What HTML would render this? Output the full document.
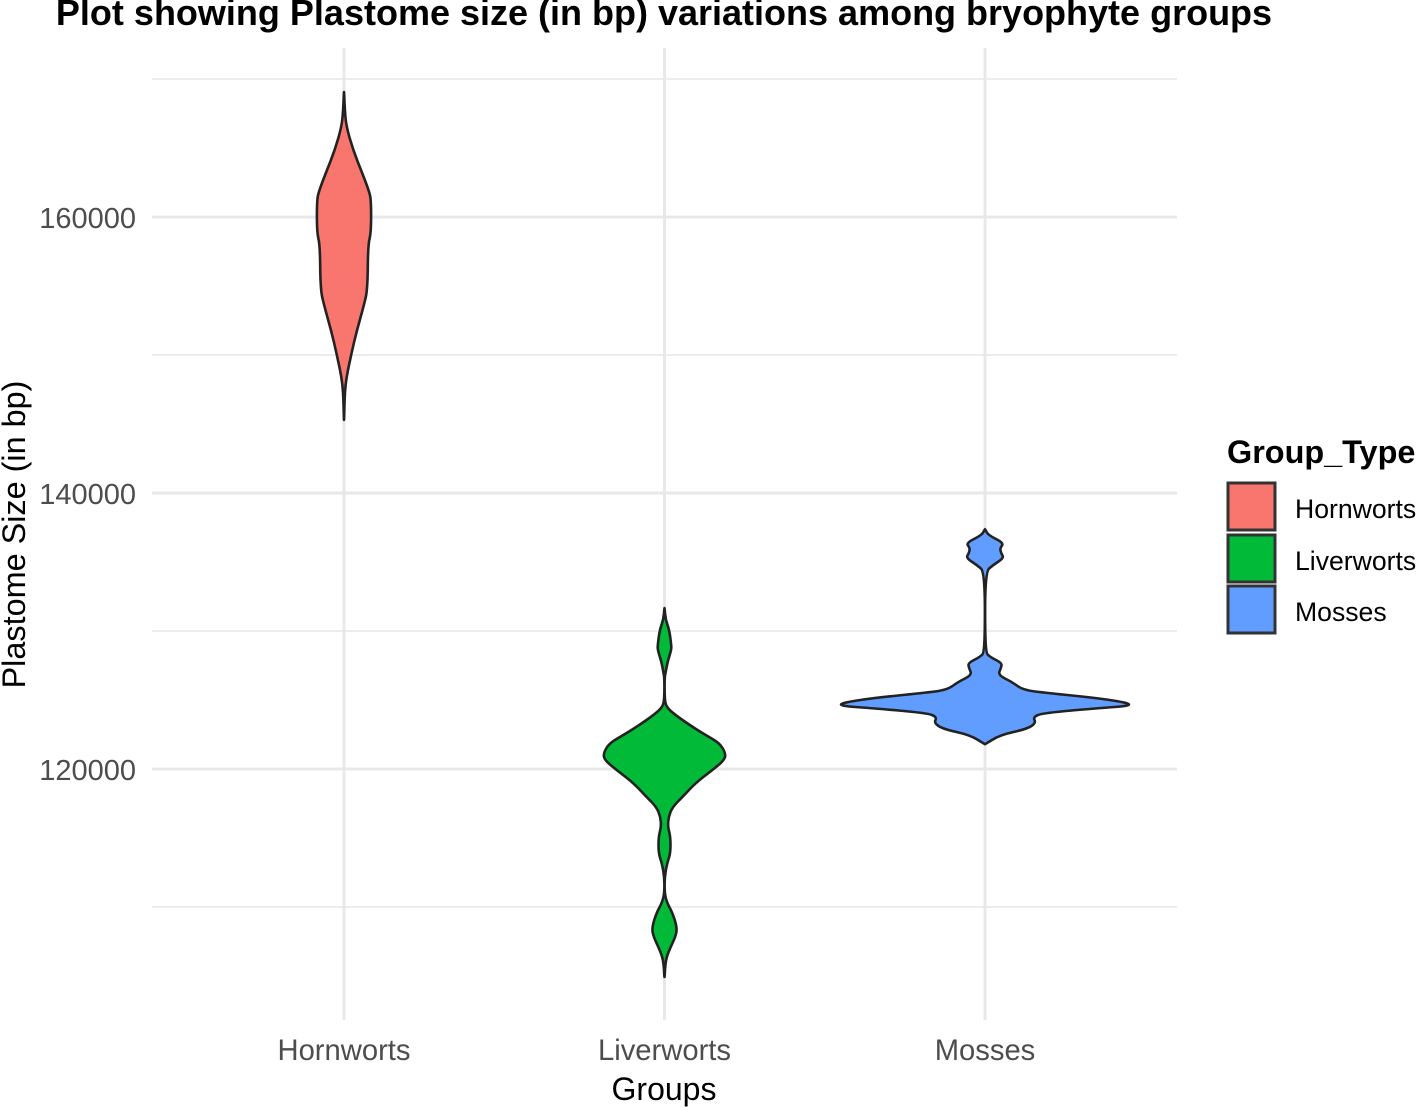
<!DOCTYPE html>
<html>
<head>
<meta charset="utf-8">
<style>
html,body{margin:0;padding:0;background:#fff;}
svg{display:block;}
text{font-family:"Liberation Sans",sans-serif;}
</style>
</head>
<body>
<svg id="chart" xmlns="http://www.w3.org/2000/svg" width="1417" height="1107" viewBox="0 0 1417 1107">
  <rect width="1417" height="1107" fill="#fff"/>
  <g id="grid"></g>
  <g id="violins"></g>
  <g id="yticks"></g>
  <g id="xticks"></g>
  <text x="664" y="25" text-anchor="middle" font-size="36" font-weight="bold" fill="#000">Plot showing Plastome size (in bp) variations among bryophyte groups</text>
  <text x="664" y="1100" text-anchor="middle" font-size="32" fill="#000">Groups</text>
  <text transform="translate(25,534.5) rotate(-90)" text-anchor="middle" font-size="32.4" fill="#000">Plastome Size (in bp)</text>
  <g id="legend">
    <text x="1227" y="463" font-size="32.4" font-weight="bold" fill="#000">Group_Type</text>
  </g>
</svg>
<script>
var categories = ['Hornworts', 'Liverworts', 'Mosses'];
var colors = ['#F8766D', '#00BA38', '#619CFF'];
var yMajorTicks = [120000, 140000, 160000];
var yMinorTicks = [110000, 130000, 150000, 170000];
var yTickLabels = ['120000', '140000', '160000'];

var hornwortSizes = [169058, 167900, 166670, 164855, 163043, 161956, 161300, 158900, 157970, 154710, 153620, 151810, 150000, 148190, 147100, 145290];
var hornwortDensity = [0.0005, 0.005, 0.014, 0.063, 0.132, 0.171, 0.188, 0.188, 0.167, 0.163, 0.139, 0.090, 0.049, 0.014, 0.005, 0.0005];

var liverwortSizes = [131668, 130799, 130074, 128987, 128625, 127755, 127031, 126596, 125147, 124495, 123915, 123190, 122466, 121886, 121161, 120654, 119930, 118988, 117973, 117249, 116524, 115799, 115075, 113915, 113191, 112176, 111017, 110365, 109568, 108481, 107829, 106887, 106162, 104930];
var liverwortDensity = [0.0005, 0.008, 0.033, 0.047, 0.047, 0.021, 0.008, 0.001, 0.001, 0.012, 0.076, 0.174, 0.285, 0.382, 0.424, 0.417, 0.333, 0.215, 0.125, 0.056, 0.028, 0.023, 0.042, 0.042, 0.019, 0.001, 0.001, 0.015, 0.056, 0.088, 0.076, 0.033, 0.008, 0.0005];

var mossSizes = [137392, 136958, 136378, 136016, 135653, 135291, 134784, 134277, 128480, 128118, 127683, 127321, 126813, 126306, 125726, 125509, 125147, 124784, 124567, 124422, 124060, 123770, 123335, 122900, 122466, 121800];
var mossDensity = [0.001, 0.021, 0.132, 0.104, 0.111, 0.132, 0.056, 0.001, 0.001, 0.035, 0.118, 0.111, 0.090, 0.188, 0.264, 0.431, 0.778, 1.0, 1.0, 0.799, 0.403, 0.333, 0.354, 0.292, 0.104, 0.001];

var violinSizes = [hornwortSizes, liverwortSizes, mossSizes];
var violinDensity = [hornwortDensity, liverwortDensity, mossDensity];

var NS = 'http://www.w3.org/2000/svg';
function yScale(v) { return 217 + (160000 - v) * 276 / 20000; }
function xScale(i) { return 344 + i * 320.5; }
function widthScale(d) { return d * 144; }
function make(tag, attrs, parent) {
  var el = document.createElementNS(NS, tag);
  for (var k in attrs) el.setAttribute(k, attrs[k]);
  parent.appendChild(el);
  return el;
}
function smoothClosedPath(pts) {
  var n = pts.length;
  function mid(a, b) { return [(a[0] + b[0]) / 2, (a[1] + b[1]) / 2]; }
  var s = mid(pts[n - 1], pts[0]);
  var d = 'M' + s[0].toFixed(1) + ' ' + s[1].toFixed(1);
  for (var i = 0; i < n; i++) {
    var m = mid(pts[i], pts[(i + 1) % n]);
    d += 'Q' + pts[i][0].toFixed(1) + ' ' + pts[i][1].toFixed(1) + ' ' + m[0].toFixed(1) + ' ' + m[1].toFixed(1);
  }
  return d + 'Z';
}

var grid = document.getElementById('grid');
yMinorTicks.forEach(function (t) {
  var l = make('line', {x1: 152, x2: 1177, y1: yScale(t), y2: yScale(t), stroke: '#ededed', 'stroke-width': 2}, grid);
  
  
});
yMajorTicks.forEach(function (t) {
  var l = make('line', {x1: 152, x2: 1177, y1: yScale(t), y2: yScale(t), stroke: '#e8e8e8', 'stroke-width': 3}, grid);
  
  
});
categories.forEach(function (c, i) {
  var l = make('line', {x1: xScale(i), x2: xScale(i), y1: 48, y2: 1020, stroke: '#e8e8e8', 'stroke-width': 3}, grid);
  
  
});

var violins = document.getElementById('violins');
categories.forEach(function (c, i) {
  var sizes = violinSizes[i], dens = violinDensity[i], cx = xScale(i);
  var left = [], right = [];
  sizes.forEach(function (s, j) {
    left.push([cx - widthScale(dens[j]), yScale(s)]);
    right.unshift([cx + widthScale(dens[j]), yScale(s)]);
  });
  var p = make('path', {d: smoothClosedPath(left.concat(right)), fill: colors[i], stroke: '#222', 'stroke-width': 2.6, 'stroke-linejoin': 'round'}, violins);
  
  
});

var yticks = document.getElementById('yticks');
yMajorTicks.forEach(function (t, i) {
  var e = make('text', {x: 136, y: yScale(t) + 11, 'text-anchor': 'end', 'font-size': 29, fill: '#4d4d4d'}, yticks);
  
  
  e.textContent = yTickLabels[i];
});

var xticks = document.getElementById('xticks');
categories.forEach(function (c, i) {
  var e = make('text', {x: xScale(i), y: 1060, 'text-anchor': 'middle', 'font-size': 29.2, fill: '#4d4d4d'}, xticks);
  
  
  e.textContent = c;
});

var legend = document.getElementById('legend');
var legendKeyTops = {Hornworts: 483, Liverworts: 535, Mosses: 586};
categories.forEach(function (c, i) {
  var top = legendKeyTops[c];
  var r = make('rect', {x: 1228, y: top, width: 47, height: 47, fill: colors[i], stroke: '#333', 'stroke-width': 3}, legend);
  
  
  var e = make('text', {x: 1295, y: top + 35, 'font-size': 26.6, fill: '#000'}, legend);
  
  
  e.textContent = c;
});
</script>
</body>
</html>
